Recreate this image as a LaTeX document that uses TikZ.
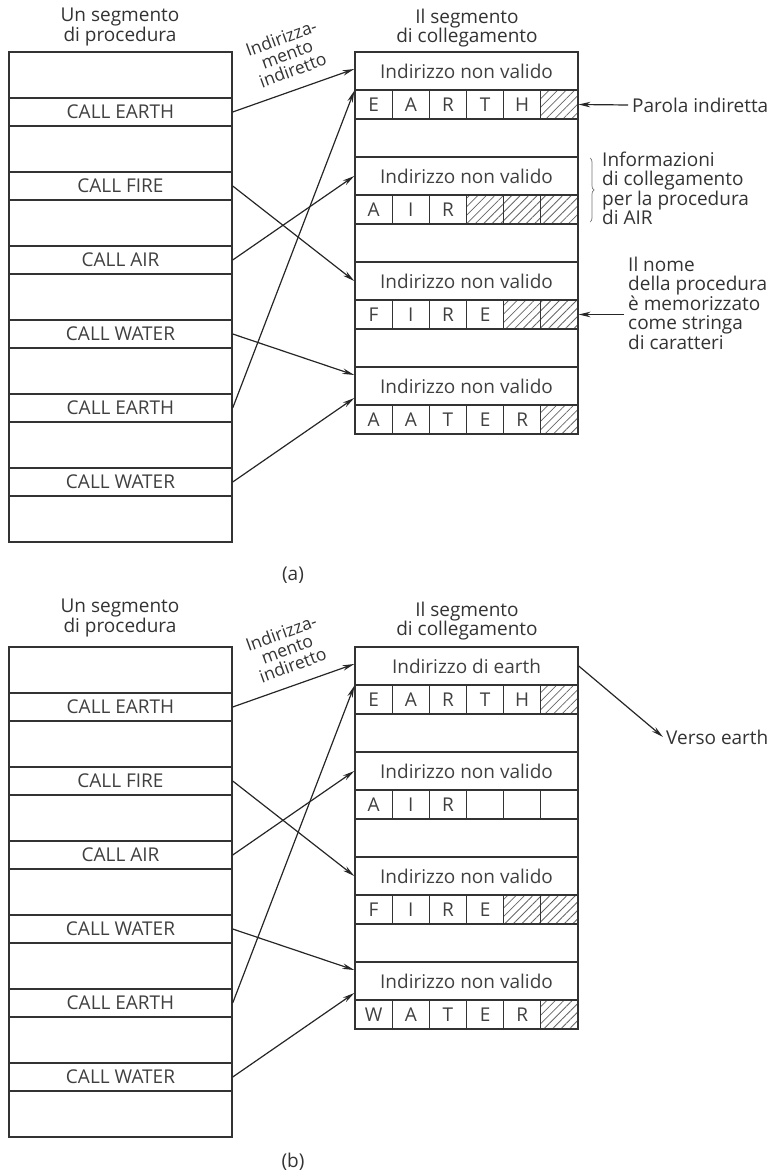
\documentclass[tikz,border=0pt]{standalone}
\usepackage{fontspec}
\setmainfont{Open Sans}
\usetikzlibrary{arrows.meta,patterns.meta,decorations.pathreplacing}

\newcommand{\segfont}{\fontsize{19}{19.5}\selectfont}

\tikzset{
  segbox/.style={draw=black!80, line width=1.4pt, inner sep=0pt},
  callrow/.style={draw=black!80, line width=1.4pt, minimum width=223pt, minimum height=28pt, inner sep=0pt, font=\segfont, text=black!75},
  indrow/.style={draw=black!80, line width=1.4pt, minimum width=223pt, minimum height=38pt, inner sep=0pt, font=\segfont, text=black!75},
  cellbox/.style={draw=black!80, line width=1.1pt, minimum width=37.17pt, minimum height=29pt, inner sep=0pt, font=\segfont, text=black!75},
  hatched/.style={pattern={Lines[angle=45,distance=6pt,line width=0.8pt]}, pattern color=black!60},
  link/.style={-{Stealth[length=12pt,width=5.5pt]}, line width=1.2pt, draw=black!85},
  note/.style={font=\segfont, align=left, inner sep=0pt, text=black!80},
  title/.style={font=\segfont, align=center, inner sep=0pt, text=black!80}
}

\begin{document}
\begin{tikzpicture}[x=1pt,y=-1pt]
\useasboundingbox (0,0) rectangle (774,1174);
% (a)
\node[title] (procTitA) at (120,27) {Un segmento\\di procedura};
\node[title] (linkTitA) at (467,28) {Il segmento\\di collegamento};
\node[segbox, minimum width=223pt, minimum height=490pt] (procA) at (120.5,297) {};
\node[callrow] (callA1) at (120.5,112) {CALL EARTH};
\node[callrow] (callA2) at (120.5,186) {CALL FIRE};
\node[callrow] (callA3) at (120.5,260) {CALL AIR};
\node[callrow] (callA4) at (120.5,334) {CALL WATER};
\node[callrow] (callA5) at (120.5,408) {CALL EARTH};
\node[callrow] (callA6) at (120.5,482) {CALL WATER};
\node[segbox, minimum width=223pt, minimum height=382pt] (linkA) at (466.5,243) {};
\node[indrow] (indA0) at (466.5,71) {Indirizzo non valido};
\node[indrow] (indA1) at (466.5,176) {Indirizzo non valido};
\node[indrow] (indA2) at (466.5,281) {Indirizzo non valido};
\node[indrow] (indA3) at (466.5,386) {Indirizzo non valido};
\node[cellbox] (a0c1) at (373.6,104.5) {E};
\node[cellbox] (a0c2) at (410.8,104.5) {A};
\node[cellbox] (a0c3) at (447.9,104.5) {R};
\node[cellbox] (a0c4) at (485.1,104.5) {T};
\node[cellbox] (a0c5) at (522.2,104.5) {H};
\node[cellbox,hatched] (a0c6) at (559.4,104.5) {};
\node[cellbox] (a1c1) at (373.6,209.5) {A};
\node[cellbox] (a1c2) at (410.8,209.5) {I};
\node[cellbox] (a1c3) at (447.9,209.5) {R};
\node[cellbox,hatched] (a1c4) at (485.1,209.5) {};
\node[cellbox,hatched] (a1c5) at (522.2,209.5) {};
\node[cellbox,hatched] (a1c6) at (559.4,209.5) {};
\node[cellbox] (a2c1) at (373.6,314.5) {F};
\node[cellbox] (a2c2) at (410.8,314.5) {I};
\node[cellbox] (a2c3) at (447.9,314.5) {R};
\node[cellbox] (a2c4) at (485.1,314.5) {E};
\node[cellbox,hatched] (a2c5) at (522.2,314.5) {};
\node[cellbox,hatched] (a2c6) at (559.4,314.5) {};
\node[cellbox] (a3c1) at (373.6,419.5) {A};
\node[cellbox] (a3c2) at (410.8,419.5) {A};
\node[cellbox] (a3c3) at (447.9,419.5) {T};
\node[cellbox] (a3c4) at (485.1,419.5) {E};
\node[cellbox] (a3c5) at (522.2,419.5) {R};
\node[cellbox,hatched] (a3c6) at (559.4,419.5) {};
\node[title, rotate=20, font={\fontsize{17.5}{17}\selectfont}] (indLabA) at (287,54) {Indirizza-\\mento\\indiretto};
\draw[link] (callA1.east) -- ([yshift=2pt]indA0.west);
\draw[link] (callA2.east) -- (indA2.west);
\draw[link] (callA3.east) -- (indA1.west);
\draw[link] (callA4.east) -- ([yshift=11pt]indA3.west);
\draw[link] (callA5.east) -- (indA0.south west);
\draw[link] (callA6.east) -- ([yshift=-12pt]indA3.west);
\node[note, anchor=west] (parolaA) at (632,105) {Parola indiretta};
\draw[link] ([xshift=-4pt]parolaA.west) -- (a0c6.east);
\draw[decorate, decoration={brace, amplitude=4pt}, draw=black!55, line width=0.7pt] (590,158) -- (590,222);
\node[note, anchor=west] (infoA) at (602,188.5) {Informazioni\\di collegamento\\per la procedura\\di AIR};
\node[note, anchor=west] (nomeA) at (628,303) {Il nome\\della procedura\\è memorizzato\\come stringa\\di caratteri};
\coordinate (nomePtA) at (624,314.5);
\draw[link] (nomePtA) -- (a2c6.east);
\node[title] (capA) at (293,575) {(a)};
% (b)
\node[title] (procTitB) at (120,618) {Un segmento\\di procedura};
\node[title] (linkTitB) at (467,621) {Il segmento\\di collegamento};
\node[segbox, minimum width=223pt, minimum height=490pt] (procB) at (120.5,892) {};
\node[callrow] (callB1) at (120.5,707) {CALL EARTH};
\node[callrow] (callB2) at (120.5,781) {CALL FIRE};
\node[callrow] (callB3) at (120.5,855) {CALL AIR};
\node[callrow] (callB4) at (120.5,929) {CALL WATER};
\node[callrow] (callB5) at (120.5,1003) {CALL EARTH};
\node[callrow] (callB6) at (120.5,1077) {CALL WATER};
\node[segbox, minimum width=223pt, minimum height=382pt] (linkB) at (466.5,838) {};
\node[indrow] (indB0) at (466.5,666) {Indirizzo di earth};
\node[indrow] (indB1) at (466.5,771) {Indirizzo non valido};
\node[indrow] (indB2) at (466.5,876) {Indirizzo non valido};
\node[indrow] (indB3) at (466.5,981) {Indirizzo non valido};
\node[cellbox] (b0c1) at (373.6,699.5) {E};
\node[cellbox] (b0c2) at (410.8,699.5) {A};
\node[cellbox] (b0c3) at (447.9,699.5) {R};
\node[cellbox] (b0c4) at (485.1,699.5) {T};
\node[cellbox] (b0c5) at (522.2,699.5) {H};
\node[cellbox,hatched] (b0c6) at (559.4,699.5) {};
\node[cellbox] (b1c1) at (373.6,804.5) {A};
\node[cellbox] (b1c2) at (410.8,804.5) {I};
\node[cellbox] (b1c3) at (447.9,804.5) {R};
\node[cellbox] (b1c4) at (485.1,804.5) {};
\node[cellbox] (b1c5) at (522.2,804.5) {};
\node[cellbox] (b1c6) at (559.4,804.5) {};
\node[cellbox] (b2c1) at (373.6,909.5) {F};
\node[cellbox] (b2c2) at (410.8,909.5) {I};
\node[cellbox] (b2c3) at (447.9,909.5) {R};
\node[cellbox] (b2c4) at (485.1,909.5) {E};
\node[cellbox,hatched] (b2c5) at (522.2,909.5) {};
\node[cellbox,hatched] (b2c6) at (559.4,909.5) {};
\node[cellbox] (b3c1) at (373.6,1014.5) {W};
\node[cellbox] (b3c2) at (410.8,1014.5) {A};
\node[cellbox] (b3c3) at (447.9,1014.5) {T};
\node[cellbox] (b3c4) at (485.1,1014.5) {E};
\node[cellbox] (b3c5) at (522.2,1014.5) {R};
\node[cellbox,hatched] (b3c6) at (559.4,1014.5) {};
\node[title, rotate=20, font={\fontsize{17.5}{17}\selectfont}] (indLabB) at (287,649) {Indirizza-\\mento\\indiretto};
\draw[link] (callB1.east) -- ([yshift=2pt]indB0.west);
\draw[link] (callB2.east) -- (indB2.west);
\draw[link] (callB3.east) -- (indB1.west);
\draw[link] (callB4.east) -- ([yshift=11pt]indB3.west);
\draw[link] (callB5.east) -- (indB0.south west);
\draw[link] (callB6.east) -- ([yshift=-12pt]indB3.west);
\node[note, anchor=west] (versoB) at (666,737) {Verso earth};
\draw[link] (indB0.east) -- ([xshift=-3pt]versoB.west);
\node[title] (capB) at (293,1162) {(b)};
\end{tikzpicture}
\end{document}
